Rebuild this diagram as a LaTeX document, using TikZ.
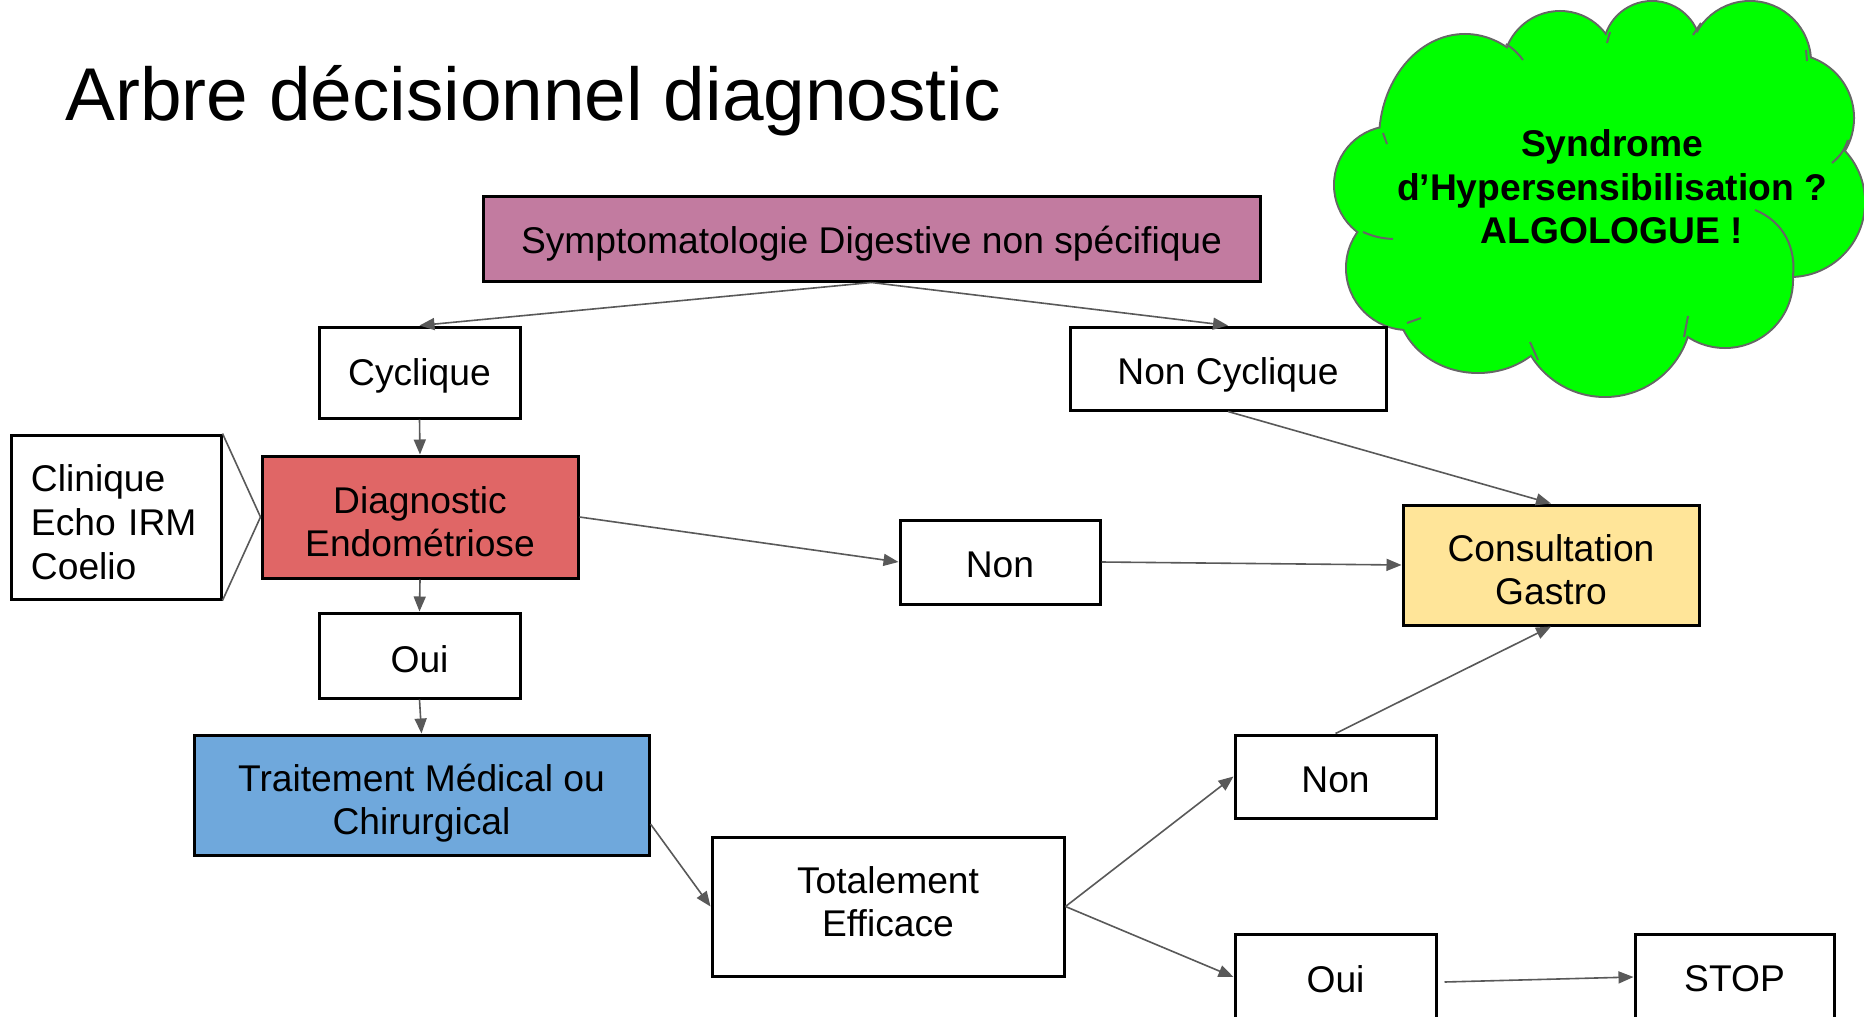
\documentclass[tikz,border=0pt]{standalone}
\usepackage{fontspec}
\setmainfont{Liberation Sans}
\usetikzlibrary{arrows.meta,calc}
\definecolor{sympc}{HTML}{C27BA0}
\definecolor{diagc}{HTML}{E06666}
\definecolor{consc}{HTML}{FFE599}
\definecolor{traitc}{HTML}{6FA8DC}
\definecolor{cloudc}{HTML}{00FF00}
\definecolor{linegray}{HTML}{595959}
\definecolor{cloudline}{HTML}{666666}
\begin{document}
\begin{tikzpicture}[x=0.5pt,y=-0.5pt,
  box/.style={draw=black, line width=1.5pt, inner sep=0pt},
  lbl/.style={inner sep=0pt, align=center, font=\fontsize{18.6}{21.4}\selectfont},
  conn/.style={draw=linegray, line width=0.8pt, -{Triangle[length=7.5pt,width=6pt]}},
  plainline/.style={draw=linegray, line width=0.8pt},
  cloudedge/.style={draw=cloudline, line width=2pt},
  cloudfill/.style={fill=cloudc},
  cloudinner/.style={draw=cloudline, line width=1pt}]
\useasboundingbox (0,0) rectangle (1864,1017);
\fill[white] (0,0) rectangle (1864,1017);

% title
\node[anchor=base west, inner sep=0pt, font=\fontsize{37.4}{42}\selectfont] (title) at (65,120) {Arbre décisionnel diagnostic};

% cloud
\def\cloudshapes#1{%
  \path[#1] (1393,185) circle[radius=29pt];
  \path[#1] (1465,140) ellipse[x radius=42.5pt, y radius=52.5pt];
  \path[#1] (1560,68) circle[radius=28pt];
  \path[#1] (1652,50) circle[radius=24pt];
  \path[#1] (1750,62) circle[radius=30pt];
  \path[#1] (1790,118) circle[radius=31.5pt];
  \path[#1] (1790,202) circle[radius=37pt];
  \path[#1] (1725,280) circle[radius=33.5pt];
  \path[#1] (1605,310) circle[radius=43pt];
  \path[#1] (1478,302) ellipse[x radius=40pt, y radius=35pt];
  \path[#1] (1408,268) circle[radius=30.5pt];
}
\cloudshapes{cloudedge}
\cloudshapes{cloudfill}
\fill[cloudc] (1600,195) ellipse[x radius=100pt, y radius=70pt];
% inner arcs of the cloud
\draw[cloudinner] (1383,133) -- (1387,144);
\draw[cloudinner] (1506,44) to[bend left=10] (1523,60);
\draw[cloudinner] (1610,32) -- (1607,43);
\draw[cloudinner] (1693,35) -- (1701,23);
\draw[cloudinner] (1807,61) -- (1806,50);
\draw[cloudinner] (1832,163) to[bend right=15] (1848,140);
\draw[cloudinner] (1755,210) .. controls (1785,222) and (1796,250) .. (1793,276);
\draw[cloudinner] (1688,316) -- (1684,337);
\draw[cloudinner] (1530,342) -- (1538,360);
\draw[cloudinner] (1407,323) -- (1421,318);
\draw[cloudinner] (1363,232) to[bend right=10] (1393,239);
\node[align=center, inner sep=0pt, font=\fontsize{18.6}{21.7}\selectfont\bfseries] (cloudtext) at (1612,187)
  {Syndrome\\d’Hypersensibilisation ?\\ALGOLOGUE !};

% boxes
\node[box, fill=sympc, minimum width=388.5pt, minimum height=42.5pt] (symp) at (871.5,238.5) {};
\node[box, fill=white, minimum width=100.5pt, minimum height=45.5pt] (cyc) at (419.5,372.5) {};
\node[box, fill=white, minimum width=158pt, minimum height=41.5pt] (noncyc) at (1228,368.5) {};
\node[box, fill=white, minimum width=105pt, minimum height=82pt] (clin) at (116,517) {};
\node[box, fill=diagc, minimum width=158pt, minimum height=61pt] (diag) at (420,517) {};
\node[box, fill=white, minimum width=100.5pt, minimum height=42.5pt] (oui) at (419.5,655.5) {};
\node[box, fill=white, minimum width=100pt, minimum height=42pt] (non) at (1000,562) {};
\node[box, fill=consc, minimum width=148pt, minimum height=60pt] (cons) at (1551,565) {};
\node[box, fill=traitc, minimum width=227.5pt, minimum height=60pt] (trait) at (421.5,795) {};
\node[box, fill=white, minimum width=176pt, minimum height=69.5pt] (tot) at (888,906.5) {};
\node[box, fill=white, minimum width=100.5pt, minimum height=41.5pt] (nonlow) at (1335.5,776.5) {};
\node[box, fill=white, minimum width=100.5pt, minimum height=43pt] (ouilow) at (1335.5,977) {};
\node[box, fill=white, minimum width=99.5pt, minimum height=43pt] (stop) at (1734.5,977) {};

% box texts
\node[lbl] (symp-t) at ($(symp)+(0,5)$) {Symptomatologie Digestive non spécifique};
\node[lbl] (cyc-t) at ($(cyc)+(0,3)$) {Cyclique};
\node[lbl] (noncyc-t) at ($(noncyc)+(0,6)$) {Non Cyclique};
\node[lbl, text width=85pt, align=left, font=\fontsize{18.6}{22}\selectfont] (clin-t) at ($(clin)+(0,5)$) {Clinique\\Echo IRM\\Coelio};
\node[lbl] (diag-t) at ($(diag)+(0,5)$) {Diagnostic\\Endométriose};
\node[lbl] (oui-t) at ($(oui)+(0,4)$) {Oui};
\node[lbl] (non-t) at ($(non)+(0,3)$) {Non};
\node[lbl] (cons-t) at ($(cons)+(0,5)$) {Consultation\\Gastro};
\node[lbl] (trait-t) at ($(trait)+(0,8)$) {Traitement Médical ou\\Chirurgical};
\node[lbl] (tot-t) at ($(tot)+(0,-5)$) {Totalement\\Efficace};
\node[lbl] (nonlow-t) at ($(nonlow)+(0,3)$) {Non};
\node[lbl] (ouilow-t) at ($(ouilow)+(0,2)$) {Oui};
\node[lbl] (stop-t) at ($(stop)+(0,2)$) {STOP};

% connectors
\draw[conn] (symp.south) -- (cyc.north);
\draw[conn] (symp.south) -- (noncyc.north);
\draw[conn] (cyc.south) -- (diag.north);
\draw[conn] (diag.south) -- (oui.north);
\draw[conn] (oui.south) -- (trait.north);
\draw[conn] (diag.east) -- (non.west);
\draw[conn] (non.east) -- (cons.west);
\draw[conn] (noncyc.south) -- (cons.north);
\draw[conn] (nonlow.north) -- (cons.south);
\draw[conn] ([yshift=-14.5pt]trait.east) -- (tot.west);
\draw[conn] (tot.east) -- (nonlow.west);
\draw[conn] (tot.east) -- (ouilow.west);
\draw[conn] ([xshift=3.5pt,yshift=-2.5pt]ouilow.east) -- (stop.west);
\draw[plainline] (clin.north east) -- (diag.west);
\draw[plainline] (clin.south east) -- (diag.west);
\end{tikzpicture}
\end{document}
